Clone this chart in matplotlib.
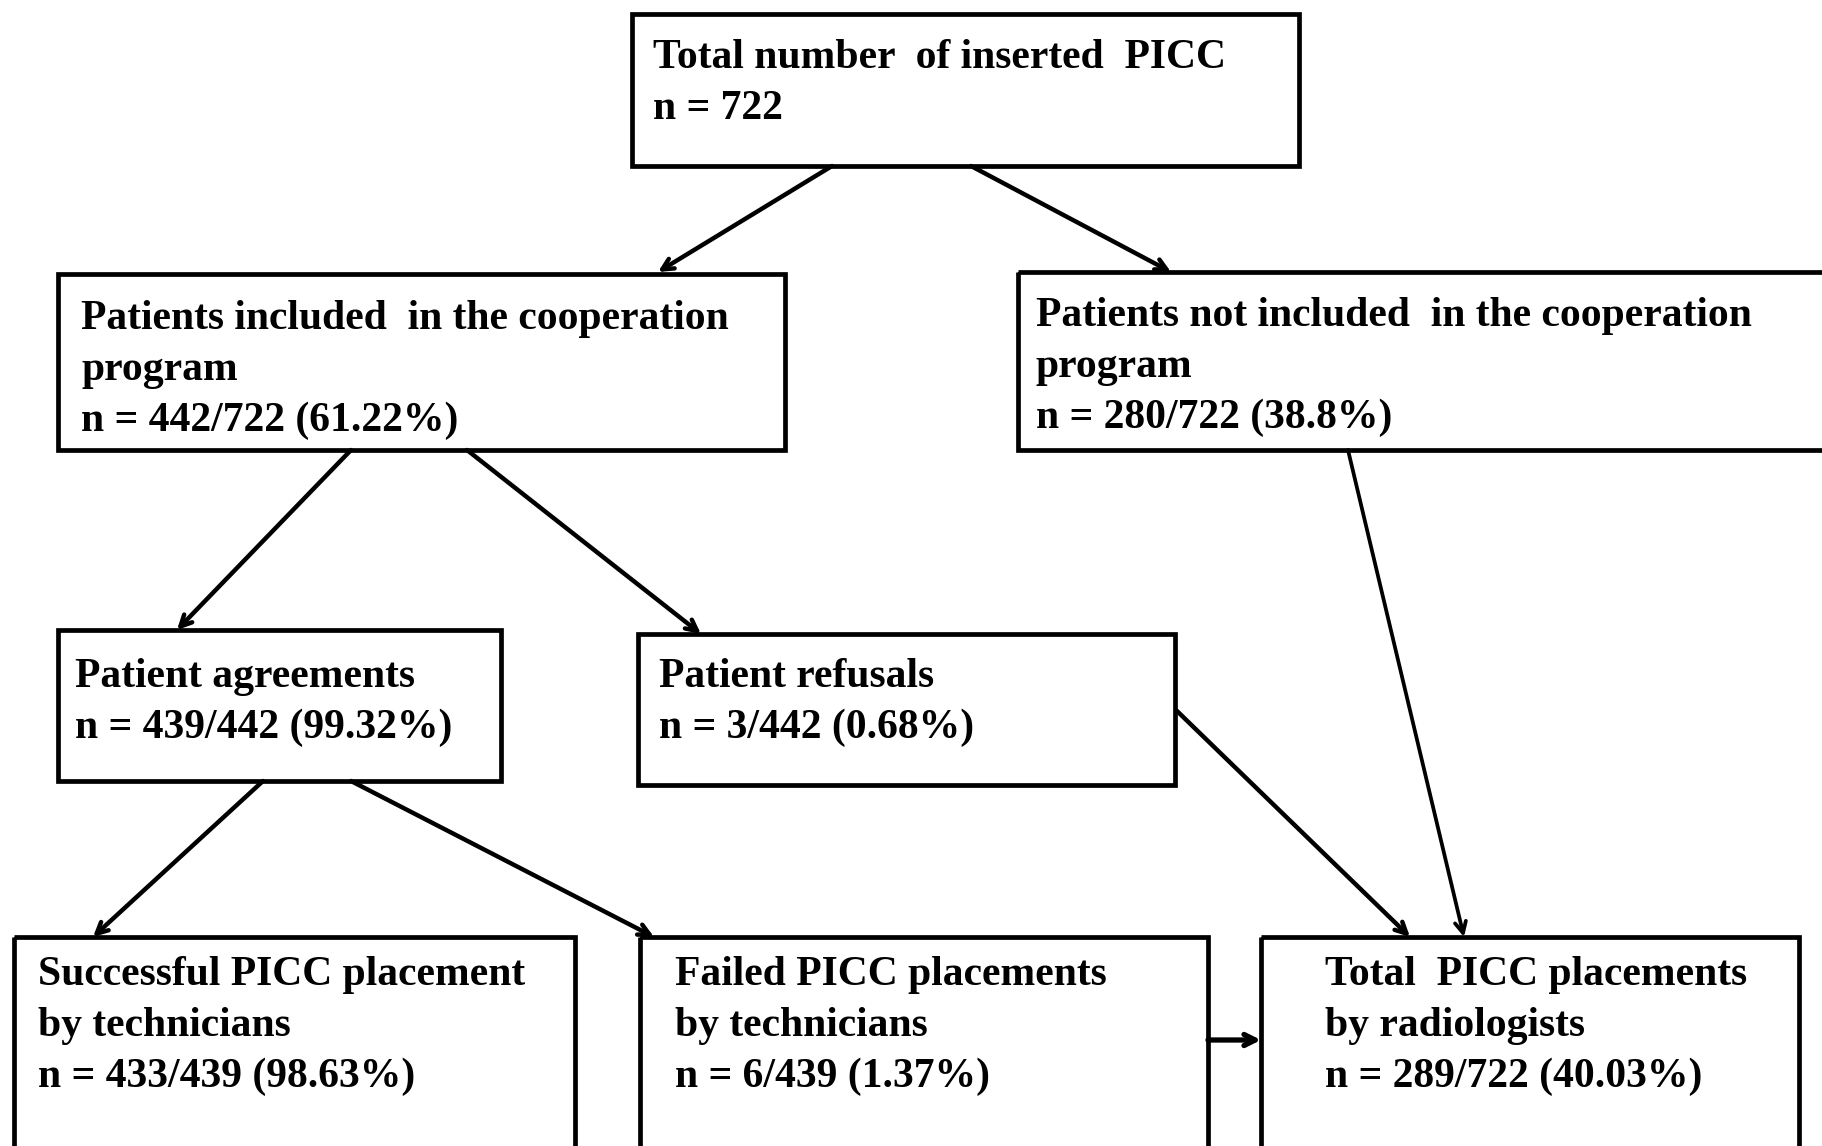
import matplotlib.pyplot as plt
from matplotlib.patches import Rectangle

# box texts (one list of lines per box)
box_lines = [
    ["Total number  of inserted  PICC", "n = 722"],
    ["Patients included  in the cooperation", "program", "n = 442/722 (61.22%)"],
    ["Patients not included  in the cooperation", "program", "n = 280/722 (38.8%)"],
    ["Patient agreements", "n = 439/442 (99.32%)"],
    ["Patient refusals", "n = 3/442 (0.68%)"],
    ["Successful PICC placement", "by technicians", "n = 433/439 (98.63%)"],
    ["Failed PICC placements", "by technicians", "n = 6/439 (1.37%)"],
    ["Total  PICC placements", "by radiologists", "n = 289/722 (40.03%)"],
]

# layout in pixel units: x0, y0, x1, y1
box_pos = [
    (632, 14, 1299, 166),
    (58, 274, 785, 450),
    (1018, 272, 1840, 450),
    (58, 630, 501, 781),
    (638, 634, 1175, 785),
    (14, 937, 575, 1170),
    (640, 937, 1208, 1170),
    (1261, 937, 1799, 1170),
]
text_x = [653, 81, 1036, 75, 659, 38, 675, 1325]
text_y0 = [68, 329, 326, 687, 687, 985, 985, 985]
line_gap = 51

# arrows: start -> end
arrows = [
    ((832, 166), (658, 272), 3.2),
    ((971, 166), (1171, 272), 3.2),
    ((351, 450), (177, 630), 3.2),
    ((467, 450), (701, 634), 3.2),
    ((1348, 450), (1464, 937), 2.7),
    ((1177, 711), (1410, 937), 3.2),
    ((263, 781), (93, 937), 3.2),
    ((351, 781), (654, 937), 3.2),
    ((1208, 1040), (1261, 1040), 3.8),
]

fig = plt.figure(figsize=(18.22, 11.46), dpi=100)
ax = fig.add_axes([0, 0, 1, 1])
ax.set_xlim(0, 1822)
ax.set_ylim(1146, 0)
ax.axis('off')

for (x0, y0, x1, y1) in box_pos:
    ax.add_patch(Rectangle((x0, y0), x1 - x0, y1 - y0, fill=False,
                           edgecolor='black', linewidth=3.4, zorder=2))

for i, lines in enumerate(box_lines):
    for j, s in enumerate(lines):
        ax.text(text_x[i], text_y0[i] + j * line_gap, s, fontsize=30,
                fontweight='bold', family='Liberation Serif',
                ha='left', va='baseline', color='black')

for (p0, p1, lw) in arrows:
    ax.annotate('', xy=p1, xytext=p0,
                arrowprops=dict(arrowstyle='->,head_length=0.8,head_width=0.4',
                                color='black', lw=lw, shrinkA=0, shrinkB=0))

fig.savefig('out.png', dpi=100)
